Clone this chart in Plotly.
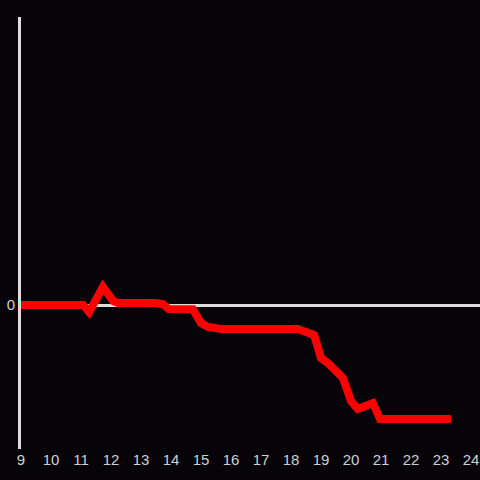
import plotly.graph_objects as go

hours = [9.0, 11.07, 11.27, 11.73, 12.07, 12.23, 13.43, 13.73, 13.93, 14.73,
         15.0, 15.23, 15.67, 18.23, 18.77, 19.0, 19.23, 19.73, 20.0, 20.23,
         20.73, 20.97, 23.33]
values = [0, 0, -0.049, 0.125, 0.028, 0.014, 0.014, 0.007, -0.028, -0.03,
          -0.125, -0.153, -0.167, -0.167, -0.208, -0.368, -0.403, -0.507, -0.667, -0.722,
          -0.681, -0.792, -0.792]
x_ticks = list(range(9, 25))
x_tick_labels = [str(t) for t in x_ticks]

fig = go.Figure()
fig.add_trace(go.Scatter(x=hours, y=values, mode="lines",
                         line=dict(color="#ff0000", width=8),
                         hoverinfo="skip", showlegend=False))

fig.update_layout(
    width=480, height=480,
    margin=dict(l=21, r=0, t=17, b=31),
    paper_bgcolor="#060408", plot_bgcolor="#060408",
    font=dict(family="Liberation Sans, Arial, sans-serif", size=15, color="#d0d0d0"),
    xaxis=dict(range=[9, 24.3], tickvals=x_ticks, ticktext=x_tick_labels,
               showgrid=False, zeroline=False, showline=False, ticks=""),
    yaxis=dict(range=[-1, 2], tickvals=[0], ticktext=["0"],
               showgrid=False, zeroline=True, zerolinecolor="#dddddd", zerolinewidth=3,
               showline=True, linecolor="#dddddd", linewidth=3, ticks=""),
)

fig.write_html("out.html", config={"displayModeBar": False},
               post_script="document.body.style.margin='0';document.body.style.background='#060408';")
